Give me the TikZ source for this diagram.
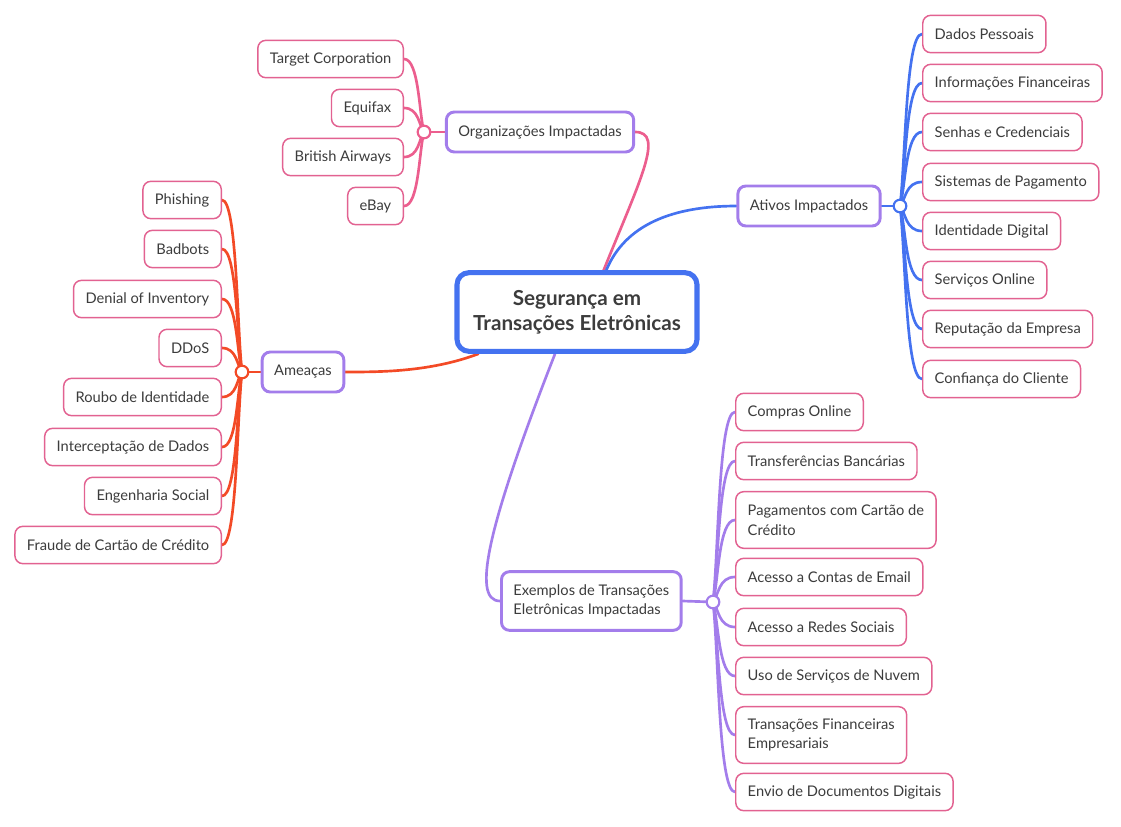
\documentclass[tikz,border=0pt]{standalone}
\usepackage{fontspec}
\setmainfont{Lato}
\usetikzlibrary{calc,backgrounds}

\definecolor{cblue}{RGB}{68,114,240}
\definecolor{cpurple}{RGB}{163,125,235}
\definecolor{cpink}{RGB}{236,94,142}
\definecolor{cred}{RGB}{243,74,38}
\definecolor{leafpink}{RGB}{226,98,145}
\definecolor{txt}{RGB}{60,60,60}

\begin{document}
\begin{tikzpicture}[x=0.75pt,y=-0.75pt,
  leaf/.style={draw=leafpink, line width=1.1pt, rounded corners=6pt, fill=white, text=txt,
    minimum height=28pt, inner xsep=9pt, inner ysep=3pt, align=left,
    font=\fontsize{11}{14.6}\selectfont},
  branch/.style={draw=cpurple, line width=2.2pt, rounded corners=6pt, fill=white, text=txt,
    minimum height=30pt, inner xsep=9pt, align=left, font=\fontsize{11}{14.6}\selectfont},
  root/.style={draw=cblue, line width=3.8pt, rounded corners=9pt, fill=white, text=txt,
    minimum width=180pt, minimum height=59pt, align=center,
    font=\bfseries\fontsize{15.5}{18.75}\selectfont},
  junc/.style={circle, draw, line width=1.6pt, fill=white, inner sep=0pt, minimum size=9.5pt},
  link/.style={line width=2pt, line cap=round}
]
\useasboundingbox (0,0) rectangle (1121,826);

% Define the nodes
\node[root] (root) at (577,312) {Segurança em\\Transações Eletrônicas};
\node[branch] (org) at (540,132) {Organizações Impactadas};
\node[branch] (ati) at (809,206) {Ativos Impactados};
\node[branch] (ame) at (303,372) {Ameaças};
\node[branch, anchor=west, minimum height=44pt] (exe) at (500,601) {Exemplos de Transações\\Eletrônicas Impactadas};

% organizations
\node[leaf, anchor=east] (tgt) at (404,59) {Target Corporation};
\node[leaf, anchor=east] (eqf) at (404,108) {Equifax};
\node[leaf, anchor=east] (bra) at (404,157) {British Airways};
\node[leaf, anchor=east] (eby) at (404,206) {eBay};

% assets
\node[leaf, anchor=west] (dad) at (922,34) {Dados Pessoais};
\node[leaf, anchor=west] (inf) at (922,83) {Informações Financeiras};
\node[leaf, anchor=west] (sen) at (922,132) {Senhas e Credenciais};
\node[leaf, anchor=west] (sis) at (922,182) {Sistemas de Pagamento};
\node[leaf, anchor=west] (ide) at (922,231) {Identidade Digital};
\node[leaf, anchor=west] (ser) at (922,280) {Serviços Online};
\node[leaf, anchor=west] (rep) at (922,329) {Reputação da Empresa};
\node[leaf, anchor=west] (con) at (922,379) {Confiança do Cliente};

% threats
\node[leaf, anchor=east] (phi) at (222,200) {Phishing};
\node[leaf, anchor=east] (bad) at (222,249) {Badbots};
\node[leaf, anchor=east] (den) at (222,299) {Denial of Inventory};
\node[leaf, anchor=east] (ddo) at (222,348) {DDoS};
\node[leaf, anchor=east] (rou) at (222,397) {Roubo de Identidade};
\node[leaf, anchor=east] (int) at (222,447) {Interceptação de Dados};
\node[leaf, anchor=east] (eng) at (222,496) {Engenharia Social};
\node[leaf, anchor=east] (fra) at (222,545) {Fraude de Cartão de Crédito};

% examples
\node[leaf, anchor=west] (com) at (735,412) {Compras Online};
\node[leaf, anchor=west] (tra) at (735,461) {Transferências Bancárias};
\node[leaf, anchor=west, minimum height=42.5pt] (pag) at (735,520) {Pagamentos com Cartão de\\Crédito};
\node[leaf, anchor=west] (ace) at (735,577) {Acesso a Contas de Email};
\node[leaf, anchor=west] (red) at (735,627) {Acesso a Redes Sociais};
\node[leaf, anchor=west] (uso) at (735,676) {Uso de Serviços de Nuvem};
\node[leaf, anchor=west, minimum height=42.5pt] (tfe) at (735,735) {Transações Financeiras\\Empresariais};
\node[leaf, anchor=west] (env) at (735,792) {Envio de Documentos Digitais};

% junctions
\node[junc, draw=cpink] (jo) at (424,132) {};
\node[junc, draw=cblue] (ja) at (900,206) {};
\node[junc, draw=cred] (jm) at (242,372) {};
\node[junc, draw=cpurple] (je) at (713,602) {};

% Draw the paths
\begin{scope}[on background layer]
\draw[link, cpink] ([xshift=20pt]root.north) .. controls (640,180) and (665,132) .. (org.east);
\draw[link, cblue] ([xshift=22pt]root.north) .. controls (625,225) and (672,206) .. (ati.west);
\draw[link, cred] ([xshift=-74pt]root.south) .. controls (430,372) and (380,372) .. (ame.east);
\draw[link, cpurple] ([xshift=-16.5pt]root.south) .. controls (490,520) and (470,601) .. (exe.west);

\draw[link, cpink] (org.west) -- (jo.center);
\draw[link, cblue] (ati.east) -- (ja.center);
\draw[link, cred] (ame.west) -- (jm.center);
\draw[link, cpurple] (exe.east) -- (je.center);

\foreach \n in {tgt,eqf,bra,eby} {
  \path ($(jo.center)!0.25!(\n.east)$) coordinate (c);
  \draw[link, cpink] (jo.center) .. controls (c) and (c |- \n.east) .. (\n.east);
}
\foreach \n in {dad,inf,sen,sis,ide,ser,rep,con} {
  \path ($(ja.center)!0.25!(\n.west)$) coordinate (c);
  \draw[link, cblue] (ja.center) .. controls (c) and (c |- \n.west) .. (\n.west);
}
\foreach \n in {phi,bad,den,ddo,rou,int,eng,fra} {
  \path ($(jm.center)!0.25!(\n.east)$) coordinate (c);
  \draw[link, cred] (jm.center) .. controls (c) and (c |- \n.east) .. (\n.east);
}
\foreach \n in {com,tra,pag,ace,red,uso,tfe,env} {
  \path ($(je.center)!0.25!(\n.west)$) coordinate (c);
  \draw[link, cpurple] (je.center) .. controls (c) and (c |- \n.west) .. (\n.west);
}
\end{scope}
\end{tikzpicture}
\end{document}
